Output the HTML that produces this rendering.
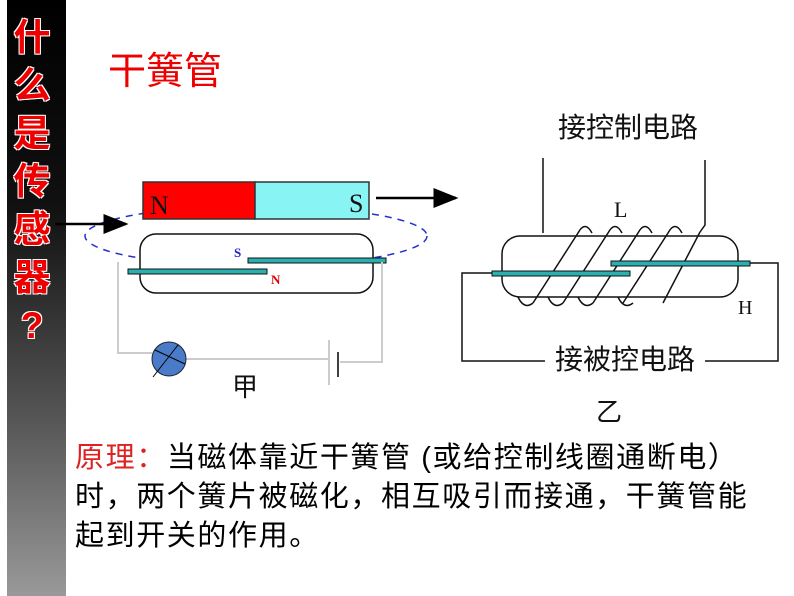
<!DOCTYPE html>
<html><head><meta charset="utf-8"><style>
body{margin:0;width:794px;height:596px;background:#fff;position:relative;overflow:hidden;font-family:"Liberation Sans","Noto Sans CJK SC",sans-serif}
.side{position:absolute;left:7px;top:0;width:59px;height:596px;background:linear-gradient(#000 0%,#111 35%,#555 70%,#999 100%)}
.sc{position:absolute;left:12px;width:40px;text-align:center;color:#e00;font-size:37px;font-weight:bold;line-height:40px;text-shadow:1px 1px 0 #fff,-1px -1px 0 #fff,1px -1px 0 #fff,-1px 1px 0 #fff}
.t{position:absolute;white-space:nowrap}
.body{position:absolute;left:75px;font-size:29px;letter-spacing:1.6px;line-height:39px;color:#000;white-space:nowrap}
</style></head><body>
<div class="side"></div>
<div class="sc" style="top:18px">什</div>
<div class="sc" style="top:66px">么</div>
<div class="sc" style="top:114px">是</div>
<div class="sc" style="top:162px">传</div>
<div class="sc" style="top:210px">感</div>
<div class="sc" style="top:258px">器</div>
<div class="sc" style="top:306px">?</div>
<div class="t" style="left:108px;top:50px;font-size:38px;color:#e00;line-height:44px">干簧管</div>
<svg width="794" height="596" style="position:absolute;left:0;top:0">
<defs><marker id="a" markerWidth="10" markerHeight="8" refX="9" refY="4" orient="auto"><path d="M0,0L10,4L0,8z" fill="#000"/></marker></defs>
<ellipse cx="256" cy="236" rx="171" ry="30" fill="none" stroke="#2233cc" stroke-width="1.5" stroke-dasharray="7,6"/>
<rect x="143" y="182" width="112" height="37" fill="#f00" stroke="#333" stroke-width="1.5"/>
<rect x="255" y="182" width="114" height="37" fill="#88f4f4" stroke="#333" stroke-width="1.5"/>
<text x="150" y="214" font-family="Liberation Serif" font-size="26" fill="#111">N</text>
<text x="349" y="212" font-family="Liberation Serif" font-size="26" fill="#111">S</text>
<line x1="55" y1="224" x2="126" y2="224" stroke="#000" stroke-width="2.5" marker-end="url(#a)"/>
<line x1="376" y1="198" x2="456" y2="198" stroke="#000" stroke-width="2.5" marker-end="url(#a)"/>
<rect x="140" y="234" width="233" height="59" rx="16" fill="#fff" stroke="#111" stroke-width="1.5"/>
<rect x="128" y="269" width="139" height="5" fill="#2ab0b0" stroke="#111" stroke-width="1"/>
<rect x="248" y="258" width="138" height="5" fill="#2ab0b0" stroke="#111" stroke-width="1"/>
<text x="234" y="257" font-family="Liberation Serif" font-size="13" font-weight="bold" fill="#22c">S</text>
<text x="271" y="284" font-family="Liberation Serif" font-size="13" font-weight="bold" fill="#d00">N</text>
<g stroke="#ccc" stroke-width="2" fill="none">
<polyline points="118,262 118,353 152,353"/>
<line x1="186" y1="359" x2="330" y2="359"/>
<line x1="329" y1="340" x2="329" y2="385"/>
<polyline points="340,362 382,362 382,262"/>
</g>
<line x1="338" y1="352" x2="338" y2="377" stroke="#000" stroke-width="1.5"/>
<circle cx="169" cy="359" r="17" fill="#4a7bc8" stroke="#223" stroke-width="1"/>
<line x1="153" y1="377" x2="178" y2="345" stroke="#000"/><line x1="155" y1="350" x2="185" y2="364" stroke="#000"/>
<g stroke="#111" stroke-width="1.5" fill="none">
<line x1="543" y1="158" x2="543" y2="233"/>
<polyline points="705,160 705,225 700,232"/>
<rect x="502" y="236" width="236" height="61" rx="18"/>
<polyline points="492,273 462,273 462,361 545,361"/>
<polyline points="750,263 778,263 778,361 705,361"/>
<path d="M533,303 L578,233 Q585,220 592,233 M563,303 L608,233 Q615,220 622,233 M593,303 L638,233 Q645,220 652,233 M623,303 L668,233 Q675,220 682,233 M663,303 L700,232"/>
<path d="M518,297 Q524,310 533,303 M548,297 Q554,310 563,303 M578,297 Q584,310 593,303 M618,297 Q624,310 633,303"/>
</g>
<rect x="492" y="271" width="138" height="5" fill="#2ab0b0" stroke="#111" stroke-width="1"/>
<rect x="611" y="261" width="139" height="5" fill="#2ab0b0" stroke="#111" stroke-width="1"/>
<text x="614" y="217" font-family="Liberation Serif" font-size="22" fill="#111">L</text>
<text x="738" y="314" font-family="Liberation Serif" font-size="20" fill="#111">H</text>
</svg>
<div class="t" style="left:558px;top:110px;font-size:28px;line-height:36px;color:#111">接控制电路</div>
<div class="t" style="left:555px;top:342px;font-size:28px;line-height:36px;color:#111">接被控电路</div>
<div class="t" style="left:232px;top:371px;font-size:26px;line-height:32px;color:#111">甲</div>
<div class="t" style="left:596px;top:396px;font-size:26px;line-height:32px;color:#111">乙</div>
<div class="body" style="top:439px"><span style="color:#d22">原理：</span>当磁体靠近干簧管 (或给控制线圈通断电）<br>时，两个簧片被磁化，相互吸引而接通，干簧管能<br>起到开关的作用。</div>
</body></html>
